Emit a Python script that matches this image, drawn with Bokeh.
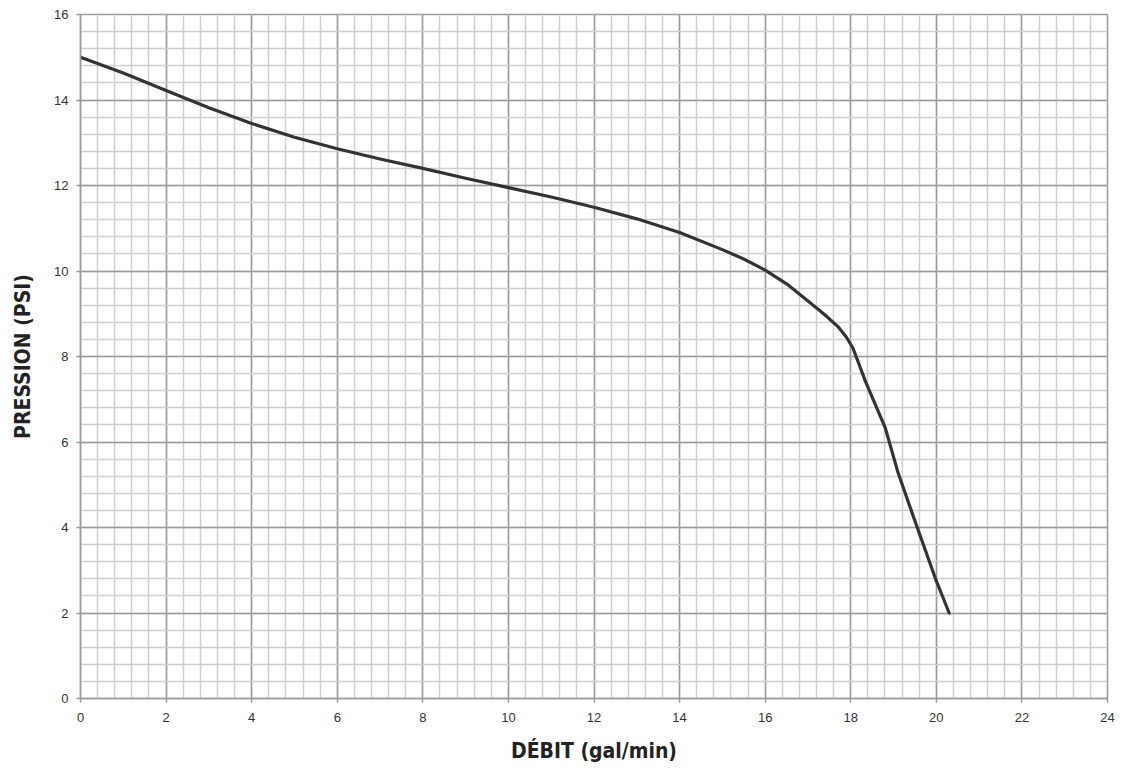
from bokeh.plotting import figure
from bokeh.models import Range1d, SingleIntervalTicker
from bokeh.embed import file_html
from bokeh.resources import INLINE

# Data
flow_gpm = [0, 1, 2, 3, 4, 5, 6, 7, 8, 9, 10, 11, 12, 13, 14, 15, 15.5, 16, 16.5, 17, 17.4, 17.7, 17.9, 18.05, 18.2, 18.35, 18.5, 18.8, 19.1, 19.5, 20.0, 20.3]
pressure_psi = [15.0, 14.63, 14.22, 13.82, 13.45, 13.13, 12.86, 12.62, 12.40, 12.17, 11.95, 11.73, 11.49, 11.22, 10.90, 10.50, 10.28, 10.02, 9.70, 9.30, 8.97, 8.70, 8.45, 8.20, 7.80, 7.40, 7.05, 6.35, 5.30, 4.15, 2.75, 2.0]

x_label = "DÉBIT (gal/min)"
y_label = "PRESSION (PSI)"

LABEL_FONT = "'Liberation Sans Narrow', 'DejaVu Sans Condensed', 'Roboto Condensed', 'Liberation Sans', sans-serif"

p = figure(frame_width=1027, frame_height=684, output_backend="svg", toolbar_location=None,
           x_range=Range1d(0, 24), y_range=Range1d(0, 16),
           min_border_left=80, min_border_top=14, min_border_bottom=10, min_border_right=10)

p.xaxis.ticker = SingleIntervalTicker(interval=2, num_minor_ticks=5)
p.yaxis.ticker = SingleIntervalTicker(interval=2, num_minor_ticks=5)

for g in (p.xgrid, p.ygrid):
    g.grid_line_color = "#9a9a9a"
    g.grid_line_width = 1.5
    g.minor_grid_line_color = "#cfcfcf"
    g.minor_grid_line_width = 1.5

p.outline_line_color = "#9a9a9a"
p.outline_line_width = 1.5

for ax in (p.xaxis, p.yaxis):
    ax.axis_line_color = "#9a9a9a"
    ax.axis_line_width = 1.5
    ax.major_tick_line_color = "#9a9a9a"
    ax.major_tick_line_width = 1.5
    ax.major_tick_in = 0
    ax.major_tick_out = 4
    ax.minor_tick_line_color = None
    ax.major_label_text_font = "Liberation Sans"
    ax.major_label_text_font_size = "13px"
    ax.major_label_text_color = "#333333"
    ax.axis_label_text_font = LABEL_FONT
    ax.axis_label_text_font_style = "bold"
    ax.axis_label_text_font_size = "21px"
    ax.axis_label_text_color = "#222222"

p.xaxis.axis_label = x_label
p.yaxis.axis_label = y_label
p.xaxis.major_label_standoff = 10
p.xaxis.axis_label_standoff = 14
p.yaxis.major_label_standoff = 8
p.yaxis.axis_label_standoff = 16

p.line(flow_gpm, pressure_psi, line_color="#333333", line_width=3.2, line_join="round", line_cap="round")

open("out.html", "w").write(file_html(p, INLINE))
